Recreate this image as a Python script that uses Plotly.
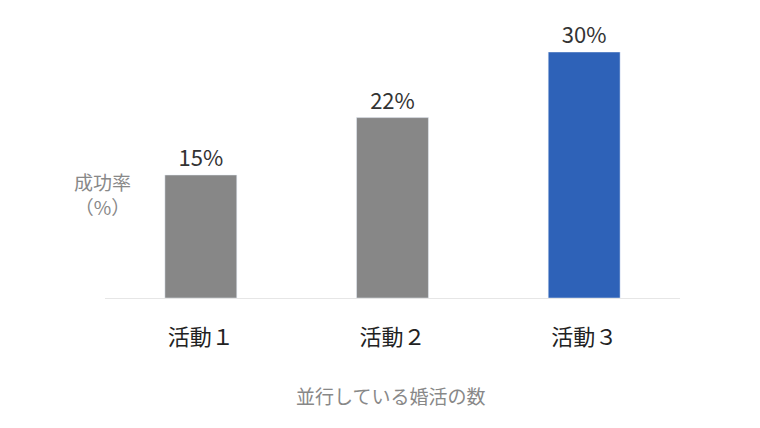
import plotly.graph_objects as go

categories = ["活動１", "活動２", "活動３"]
values = [15, 22, 30]
labels = ["15%", "22%", "30%"]
colors = ["#878787", "#878787", "#2e62b8"]

W, H = 760, 428
l, r, t, b = 97, 88, 44, 138

fig = go.Figure(go.Bar(
    x=categories, y=values, text=labels, textposition="outside",
    marker_color=colors, cliponaxis=False,
    textfont=dict(size=22, color="#333333"),
))
fig.update_layout(
    width=W, height=H,
    margin=dict(l=l, r=r, t=t, b=b),
    plot_bgcolor="white", paper_bgcolor="white",
    font=dict(family="Noto Sans CJK JP", color="#333333"),
    bargap=0.625, showlegend=False,
    xaxis=dict(showline=True, linecolor="#e6e6e6", linewidth=1,
               tickfont=dict(size=22, color="#222222"), ticks="", ticklabelstandoff=20),
    yaxis=dict(range=[0, 30], visible=False),
)
ann = [("成功率<br>（%）", 64, 214, 19), ("並行している婚活の数", 382, 403, 19)]
for text, px, py, sz in ann:
    fig.add_annotation(text=text, x=(px - l) / (W - l - r), y=(H - b - py) / (H - t - b),
                       xref="paper", yref="paper", showarrow=False, align="center",
                       font=dict(size=sz, color="#888888"))
fig.write_html("out.html")
